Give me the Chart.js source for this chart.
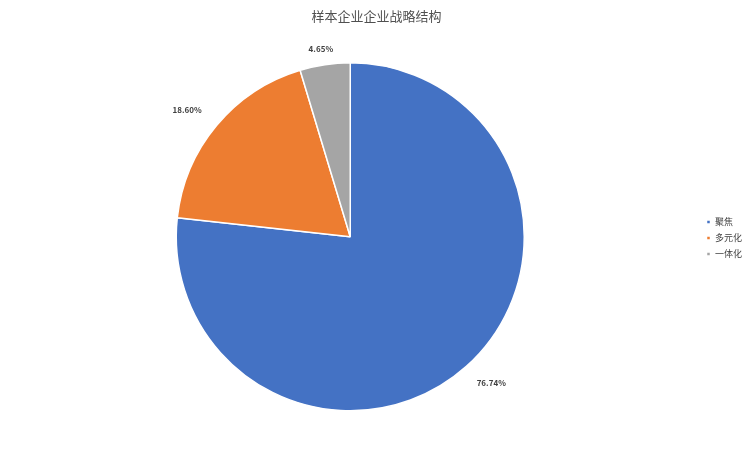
<!DOCTYPE html>
<html>
<head>
<meta charset="utf-8">
<script src="https://cdn.jsdelivr.net/npm/chart.js@4/dist/chart.umd.min.js"></script>
<style>
    html, body { margin: 0; padding: 0; background: #fff; }
    #wrap { width: 749px; height: 449px; }
</style>
</head>
<body>
<div id="wrap"><canvas id="pieChart"></canvas></div>
<script>
const categories = ['聚焦', '多元化', '一体化'];
const shares = [76.74, 18.60, 4.65];
const sliceColors = ['#4472C4', '#ED7D31', '#A5A5A5'];

const fontFamily = '"Noto Sans CJK SC", "Noto Sans", sans-serif';

// percentage labels outside each slice
const outsideLabels = {
    id: 'outsideLabels',
    afterDatasetsDraw(chart) {
        const ctx = chart.ctx;
        const meta = chart.getDatasetMeta(0);
        ctx.save();
        ctx.font = 'bold 8px ' + fontFamily;
        ctx.fillStyle = '#404040';
        ctx.textAlign = 'center';
        ctx.textBaseline = 'middle';
        meta.data.forEach((arc, i) => {
            const mid = (arc.startAngle + arc.endAngle) / 2;
            const text = shares[i].toFixed(2) + '%';
            const w = ctx.measureText(text).width;
            const cos = Math.cos(mid), sin = Math.sin(mid);
            const dist = arc.outerRadius + 10 + Math.abs(cos) * w / 2 + Math.abs(sin) * 4;
            ctx.fillText(text, arc.x + cos * (dist + w / 2), arc.y + sin * dist);
        });
        ctx.restore();
    }
};

const ctx = document.getElementById('pieChart').getContext('2d');
const pieChart = new Chart(ctx, {
    type: 'pie',
    data: {
        labels: categories,
        datasets: [{
            data: shares,
            backgroundColor: sliceColors,
            borderColor: '#ffffff',
            borderWidth: 1.5,
            radius: 174
        }]
    },
    options: {
        responsive: true,
        maintainAspectRatio: false,
        animation: false,
        layout: { padding: { left: 1, right: -3, bottom: 11 } },
        plugins: {
            title: {
                display: true,
                text: '样本企业企业战略结构',
                color: '#505050',
                font: { family: fontFamily, size: 13, weight: 'normal' },
                padding: { top: 8, bottom: 12 }
            },
            legend: {
                position: 'right',
                title: {
                    display: true,
                    text: ' ',
                    font: { size: 9 },
                    padding: { top: 27, bottom: 0 }
                },
                labels: {
                    boxWidth: 4,
                    boxHeight: 4,
                    padding: 7,
                    color: '#404040',
                    font: { family: fontFamily, size: 9 }
                }
            },
            tooltip: { enabled: false }
        }
    },
    plugins: [outsideLabels]
});
</script>
</body>
</html>
